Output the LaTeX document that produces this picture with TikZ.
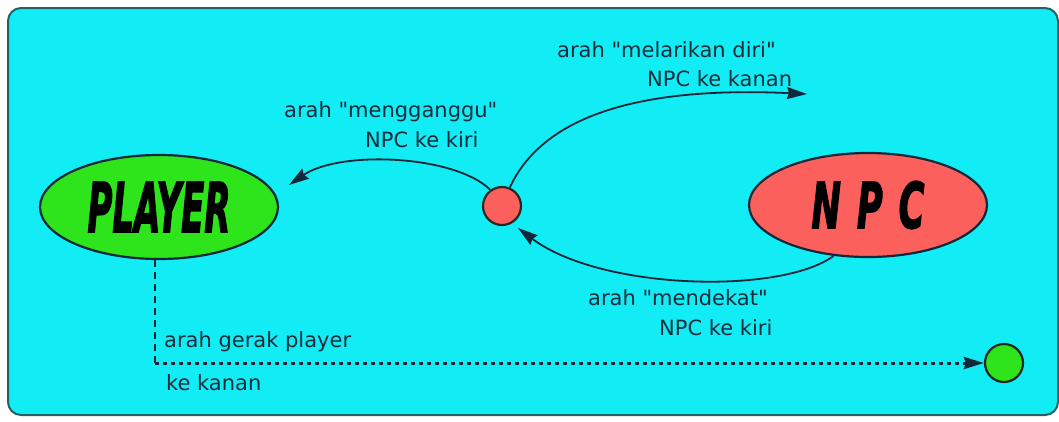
\documentclass[tikz,border=0pt]{standalone}
\usepackage{fontspec}
\usepackage{graphicx}
\setmainfont{DejaVu Sans}
\newfontfamily\actorfont{DejaVu Sans}[FakeBold=2.5]
\usetikzlibrary{arrows.meta,shapes.geometric}

\definecolor{panel}{RGB}{18,236,244}
\definecolor{panelrim}{RGB}{40,96,104}
\definecolor{playergreen}{RGB}{46,228,26}
\definecolor{npcred}{RGB}{252,96,92}
\definecolor{ink}{RGB}{18,40,58}
\definecolor{labelink}{RGB}{24,44,60}

\tikzset{
  actor/.style={ellipse, draw=ink, line width=2.2bp, inner sep=0pt,
    minimum width=238bp, minimum height=104bp},
  marker/.style={circle, draw=black!85, line width=2.2bp, inner sep=0pt,
    minimum size=38bp},
  label/.style={anchor=base west, inner sep=0pt, text=labelink,
    font=\fontsize{21bp}{25bp}\selectfont},
  flow/.style={draw=ink, line width=1.8bp,
    -{Stealth[length=20bp,width=12bp,inset=2bp]}},
  dashline/.style={draw=ink, line width=1.8bp, dash pattern=on 7bp off 5bp},
  dotline/.style={draw=ink, line width=3bp, dash pattern=on 4bp off 4bp},
}

\begin{document}
\begin{tikzpicture}[x=1bp, y=-1bp]
  \useasboundingbox (0,0) rectangle (1059,421);
  \fill[white] (0,0) rectangle (1059,421);

  % panel
  \draw[fill=panel, draw=panelrim, line width=2bp, rounded corners=13bp]
    (8,8) rectangle (1058,415);

  % actors
  \node[actor, fill=playergreen] (pl) at (159,207)
    {\resizebox{143bp}{50bp}{\actorfont\bfseries\itshape PLAYER}};
  \node[actor, fill=npcred] (npc) at (868,205)
    {\resizebox{113bp}{47bp}{\actorfont\bfseries\itshape\addfontfeature{LetterSpace=45}NPC\addfontfeature{LetterSpace=0}}};

  % position markers
  \node[marker, fill=npcred] (sc) at (502,206) {};
  \node[marker, fill=playergreen] (gc) at (1004,363) {};

  % free ends of the arrows
  \coordinate (toPlayer) at (289,185);
  \coordinate (fleeEnd) at (807,94);
  \coordinate (nearEnd) at (518,228);
  \coordinate (turn) at (155,363);

  % movement arrows
  \draw[flow] (sc.126) .. controls (455,155) and (340,150) .. (toPlayer);
  \draw[flow] (sc.67) .. controls (550,100) and (680,88) .. (fleeEnd);
  \draw[flow] (npc.236) .. controls (780,295) and (600,290) .. (nearEnd);

  % player path
  \draw[dashline] (pl.south -| turn) -- (turn);
  \draw[dotline, -{Stealth[length=20bp,width=12bp,inset=2bp]}] (turn) -- (gc.west);

  % labels
  \node[label] (l1a) at (557,57) {arah \textquotedbl melarikan diri\textquotedbl};
  \node[label] (l1b) at (647,86) {NPC ke kanan};
  \node[label] (l2a) at (284,117) {arah \textquotedbl mengganggu\textquotedbl};
  \node[label] (l2b) at (365,147) {NPC ke kiri};
  \node[label] (l3a) at (588,305) {arah \textquotedbl mendekat\textquotedbl};
  \node[label] (l3b) at (659,335) {NPC ke kiri};
  \node[label] (l4a) at (164,347) {arah gerak player};
  \node[label] (l4b) at (166,390) {ke kanan};
\end{tikzpicture}
\end{document}
